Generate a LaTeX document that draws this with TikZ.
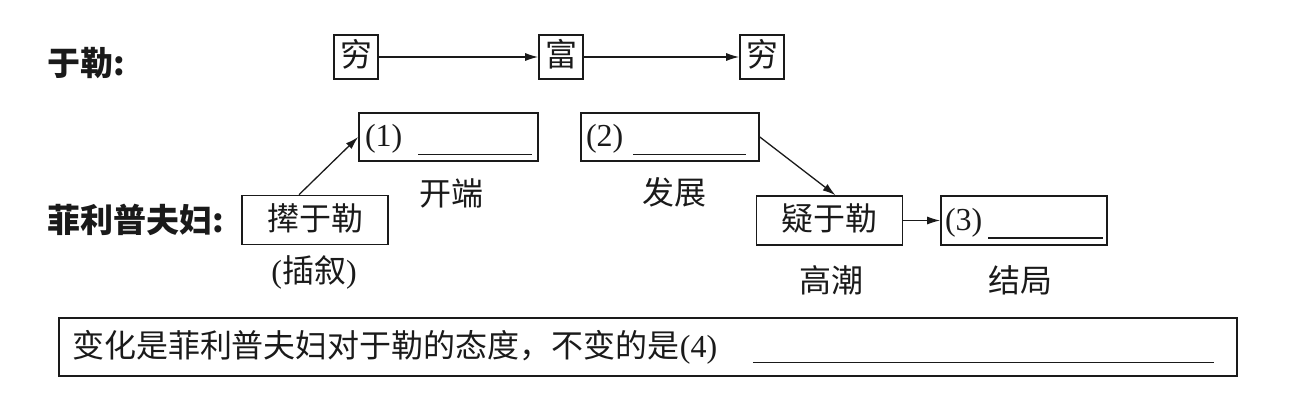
\documentclass[tikz,border=0pt]{standalone}
\usepackage{fontspec}
\usepackage{tikz}
\usetikzlibrary{calc,arrows.meta}
\setmainfont{Liberation Serif}
\newfontfamily\cjk{Noto Sans CJK SC}
\definecolor{inkc}{HTML}{1A1A1A}
\colorlet{inkcolor}{inkc}
\newcommand{\fillin}[1]{% answer blank
\rule[-8pt]{#1}{1.3pt}}
\tikzstyle{wordbox} = [
    draw=inkcolor,
    text=inkcolor,
    line width=1.6pt,
    rectangle,
    inner sep=0pt,
    text height=26pt,
    text depth=6pt,
    font=\fontsize{32pt}{38pt}\selectfont
    ]
\tikzstyle{rowlabel} = [
    text=inkcolor,
    anchor=west,
    inner sep=0pt,
    font=\cjk\bfseries\fontsize{33pt}{39pt}\selectfont
    ]
\tikzstyle{stagelabel} = [
    text=inkcolor,
    inner sep=0pt,
    font=\cjk\fontsize{32pt}{38pt}\selectfont
    ]
\tikzstyle{plotarrow} = [
    draw=inkcolor,
    line width=1.3pt,
    -{Latex[length=13pt,width=8pt]}
    ]

\begin{document}
\begin{tikzpicture}[x=1pt,y=-1pt]
\useasboundingbox (0,0) rectangle (1302,409);
% Yule
\node[rowlabel] (yule) at (47,63) {于勒:};
\node[wordbox, minimum size=44pt] (poor) at (356,57) {\cjk 穷};
\node[wordbox, minimum size=44pt] (rich) at (561,57) {\cjk 富};
\node[wordbox, minimum size=44pt] (poorer) at (762,57) {\cjk 穷};
\draw[plotarrow] (poor) -- (rich);
\draw[plotarrow] (rich) -- (poorer);

% the Philippes
\node[rowlabel] (philippe) at (47,220) {菲利普夫妇:};
\node[wordbox, minimum width=146pt, minimum height=49pt] (drive) at (315,220) {\cjk 撵于勒};
\node[wordbox, minimum width=179pt, minimum height=48pt, inner xsep=6pt] (start) at (448.5,137) {\makebox[167pt][l]{(1)\hfill\fillin{114pt}}};
\node[wordbox, minimum width=178pt, minimum height=48pt, inner xsep=5pt] (develop) at (670,137) {\makebox[168pt][l]{(2)\hfill\fillin{113pt}\hspace{8pt}}};
\node[wordbox, minimum width=146pt, minimum height=49pt] (doubt) at (829.5,220.5) {\cjk 疑于勒};
\node[wordbox, minimum width=166pt, minimum height=49pt, inner xsep=4pt] (ending) at (1024,220.5) {\makebox[158pt][l]{(3)\hfill\fillin{115pt}}};
\draw[plotarrow] ([xshift=-16pt]drive.north) -- (start.west);
\draw[plotarrow] (develop.east) -- ([xshift=6pt]doubt.north);
\draw[plotarrow] (doubt) -- (ending);

\node[stagelabel] (startlbl) at (451,193) {开端};
\node[stagelabel] (developlbl) at (674,192) {发展};
\node[stagelabel] (climaxlbl) at (831,280) {高潮};
\node[stagelabel] (endinglbl) at (1020,280) {结局};
\node[stagelabel] (flashback) at (314,272) {{\rmfamily(}插叙{\rmfamily)}};

\node[wordbox, minimum width=1178pt, minimum height=58pt, inner xsep=13pt] (change) at (648,347) {\makebox[1152pt][l]{\cjk 变化是菲利普夫妇对于勒的态度，不变的是\rmfamily(4)\hfill\rule[-6pt]{461pt}{1.3pt}\hspace{10pt}}};
\end{tikzpicture}
\end{document}
